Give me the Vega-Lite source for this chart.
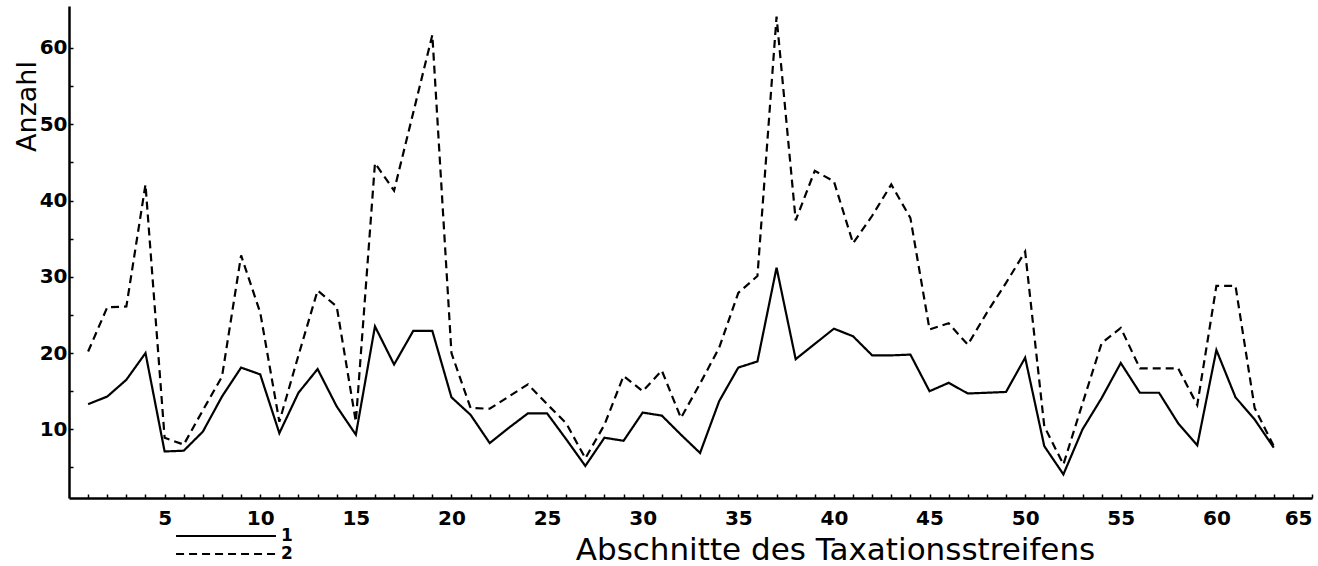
{
  "$schema": "https://vega.github.io/schema/vega-lite/v6.json",
  "autosize": {"type": "none"},
  "padding": {"left": 69, "top": 6, "right": 6, "bottom": 68},
  "width": 1243,
  "height": 492,
  "background": "white",
  "config": {"view": {"stroke": null}, "axis": {"grid": false}},
  "data": {"values": [
    {"abschnitt":1,"serie":"1","anzahl":13.3},{"abschnitt":2,"serie":"1","anzahl":14.3},{"abschnitt":3,"serie":"1","anzahl":16.5},{"abschnitt":4,"serie":"1","anzahl":20.0},{"abschnitt":5,"serie":"1","anzahl":7.1},{"abschnitt":6,"serie":"1","anzahl":7.2},{"abschnitt":7,"serie":"1","anzahl":9.7},{"abschnitt":8,"serie":"1","anzahl":14.3},{"abschnitt":9,"serie":"1","anzahl":18.1},{"abschnitt":10,"serie":"1","anzahl":17.2},
    {"abschnitt":11,"serie":"1","anzahl":9.5},{"abschnitt":12,"serie":"1","anzahl":14.8},{"abschnitt":13,"serie":"1","anzahl":17.9},{"abschnitt":14,"serie":"1","anzahl":13.0},{"abschnitt":15,"serie":"1","anzahl":9.3},{"abschnitt":16,"serie":"1","anzahl":23.5},{"abschnitt":17,"serie":"1","anzahl":18.5},{"abschnitt":18,"serie":"1","anzahl":22.9},{"abschnitt":19,"serie":"1","anzahl":22.9},{"abschnitt":20,"serie":"1","anzahl":14.2},
    {"abschnitt":21,"serie":"1","anzahl":11.9},{"abschnitt":22,"serie":"1","anzahl":8.2},{"abschnitt":23,"serie":"1","anzahl":10.2},{"abschnitt":24,"serie":"1","anzahl":12.1},{"abschnitt":25,"serie":"1","anzahl":12.1},{"abschnitt":26,"serie":"1","anzahl":8.7},{"abschnitt":27,"serie":"1","anzahl":5.2},{"abschnitt":28,"serie":"1","anzahl":8.9},{"abschnitt":29,"serie":"1","anzahl":8.5},{"abschnitt":30,"serie":"1","anzahl":12.2},
    {"abschnitt":31,"serie":"1","anzahl":11.8},{"abschnitt":32,"serie":"1","anzahl":9.3},{"abschnitt":33,"serie":"1","anzahl":6.9},{"abschnitt":34,"serie":"1","anzahl":13.7},{"abschnitt":35,"serie":"1","anzahl":18.1},{"abschnitt":36,"serie":"1","anzahl":18.9},{"abschnitt":37,"serie":"1","anzahl":31.2},{"abschnitt":38,"serie":"1","anzahl":19.2},{"abschnitt":39,"serie":"1","anzahl":21.2},{"abschnitt":40,"serie":"1","anzahl":23.2},
    {"abschnitt":41,"serie":"1","anzahl":22.2},{"abschnitt":42,"serie":"1","anzahl":19.7},{"abschnitt":43,"serie":"1","anzahl":19.7},{"abschnitt":44,"serie":"1","anzahl":19.8},{"abschnitt":45,"serie":"1","anzahl":15.0},{"abschnitt":46,"serie":"1","anzahl":16.1},{"abschnitt":47,"serie":"1","anzahl":14.7},{"abschnitt":48,"serie":"1","anzahl":14.8},{"abschnitt":49,"serie":"1","anzahl":14.9},{"abschnitt":50,"serie":"1","anzahl":19.4},
    {"abschnitt":51,"serie":"1","anzahl":7.8},{"abschnitt":52,"serie":"1","anzahl":4.1},{"abschnitt":53,"serie":"1","anzahl":10.0},{"abschnitt":54,"serie":"1","anzahl":14.1},{"abschnitt":55,"serie":"1","anzahl":18.7},{"abschnitt":56,"serie":"1","anzahl":14.8},{"abschnitt":57,"serie":"1","anzahl":14.8},{"abschnitt":58,"serie":"1","anzahl":10.8},{"abschnitt":59,"serie":"1","anzahl":7.9},{"abschnitt":60,"serie":"1","anzahl":20.4},
    {"abschnitt":61,"serie":"1","anzahl":14.2},{"abschnitt":62,"serie":"1","anzahl":11.3},{"abschnitt":63,"serie":"1","anzahl":7.6},
    {"abschnitt":1,"serie":"2","anzahl":20.2},{"abschnitt":2,"serie":"2","anzahl":26.0},{"abschnitt":3,"serie":"2","anzahl":26.1},{"abschnitt":4,"serie":"2","anzahl":42.1},{"abschnitt":5,"serie":"2","anzahl":8.9},{"abschnitt":6,"serie":"2","anzahl":8.0},{"abschnitt":7,"serie":"2","anzahl":12.5},{"abschnitt":8,"serie":"2","anzahl":16.9},{"abschnitt":9,"serie":"2","anzahl":32.8},{"abschnitt":10,"serie":"2","anzahl":25.3},
    {"abschnitt":11,"serie":"2","anzahl":11.0},{"abschnitt":12,"serie":"2","anzahl":19.7},{"abschnitt":13,"serie":"2","anzahl":28.2},{"abschnitt":14,"serie":"2","anzahl":26.1},{"abschnitt":15,"serie":"2","anzahl":11.0},{"abschnitt":16,"serie":"2","anzahl":44.9},{"abschnitt":17,"serie":"2","anzahl":41.3},{"abschnitt":18,"serie":"2","anzahl":51.5},{"abschnitt":19,"serie":"2","anzahl":61.7},{"abschnitt":20,"serie":"2","anzahl":20.0},
    {"abschnitt":21,"serie":"2","anzahl":12.8},{"abschnitt":22,"serie":"2","anzahl":12.7},{"abschnitt":23,"serie":"2","anzahl":14.3},{"abschnitt":24,"serie":"2","anzahl":15.9},{"abschnitt":25,"serie":"2","anzahl":13.3},{"abschnitt":26,"serie":"2","anzahl":10.8},{"abschnitt":27,"serie":"2","anzahl":6.2},{"abschnitt":28,"serie":"2","anzahl":10.6},{"abschnitt":29,"serie":"2","anzahl":17.0},{"abschnitt":30,"serie":"2","anzahl":15.0},
    {"abschnitt":31,"serie":"2","anzahl":17.7},{"abschnitt":32,"serie":"2","anzahl":11.5},{"abschnitt":33,"serie":"2","anzahl":16.0},{"abschnitt":34,"serie":"2","anzahl":20.7},{"abschnitt":35,"serie":"2","anzahl":27.9},{"abschnitt":36,"serie":"2","anzahl":30.1},{"abschnitt":37,"serie":"2","anzahl":64.1},{"abschnitt":38,"serie":"2","anzahl":37.4},{"abschnitt":39,"serie":"2","anzahl":43.9},{"abschnitt":40,"serie":"2","anzahl":42.5},
    {"abschnitt":41,"serie":"2","anzahl":34.4},{"abschnitt":42,"serie":"2","anzahl":38.0},{"abschnitt":43,"serie":"2","anzahl":42.1},{"abschnitt":44,"serie":"2","anzahl":37.7},{"abschnitt":45,"serie":"2","anzahl":23.1},{"abschnitt":46,"serie":"2","anzahl":23.9},{"abschnitt":47,"serie":"2","anzahl":21.1},{"abschnitt":48,"serie":"2","anzahl":25.3},{"abschnitt":49,"serie":"2","anzahl":29.2},{"abschnitt":50,"serie":"2","anzahl":33.3},
    {"abschnitt":51,"serie":"2","anzahl":10.4},{"abschnitt":52,"serie":"2","anzahl":5.4},{"abschnitt":53,"serie":"2","anzahl":13.4},{"abschnitt":54,"serie":"2","anzahl":21.3},{"abschnitt":55,"serie":"2","anzahl":23.3},{"abschnitt":56,"serie":"2","anzahl":18.0},{"abschnitt":57,"serie":"2","anzahl":18.0},{"abschnitt":58,"serie":"2","anzahl":18.0},{"abschnitt":59,"serie":"2","anzahl":13.2},{"abschnitt":60,"serie":"2","anzahl":28.8},
    {"abschnitt":61,"serie":"2","anzahl":28.8},{"abschnitt":62,"serie":"2","anzahl":12.8},{"abschnitt":63,"serie":"2","anzahl":7.8}
  ]},
  "mark": {"type": "line", "color": "black", "strokeWidth": 2.2, "strokeJoin": "miter"},
  "encoding": {
    "x": {
      "field": "abschnitt", "type": "quantitative",
      "scale": {"domain": [0, 65], "nice": false, "zero": false},
      "axis": {
        "values": [1,2,3,4,5,6,7,8,9,10,11,12,13,14,15,16,17,18,19,20,21,22,23,24,25,26,27,28,29,30,31,32,33,34,35,36,37,38,39,40,41,42,43,44,45,46,47,48,49,50,51,52,53,54,55,56,57,58,59,60,61,62,63,64,65],
        "labelExpr": "datum.value % 5 === 0 ? datum.label : ''",
        "domainColor": "black", "domainWidth": 2.5,
        "tickColor": "black", "tickWidth": 1.5, "tickSize": -4,
        "labelFont": "DejaVu Sans", "labelFontWeight": "bold", "labelFontSize": 20, "labelColor": "black",
        "labelPadding": 14, "labelFlush": true, "labelOverlap": false,
        "title": "Abschnitte des Taxationsstreifens",
        "titleFont": "DejaVu Sans", "titleFontWeight": "normal", "titleFontSize": 31, "titleColor": "black",
        "titleX": 766, "titleY": 61, "titleAlign": "center", "titleBaseline": "alphabetic", "titleAnchor": null
      }
    },
    "y": {
      "field": "anzahl", "type": "quantitative",
      "scale": {"domain": [1, 65.5], "nice": false, "zero": false},
      "axis": {
        "values": [5,10,15,20,25,30,35,40,45,50,55,60],
        "labelExpr": "datum.value % 10 === 0 ? datum.label : ''",
        "domainColor": "black", "domainWidth": 2.5,
        "tickColor": "black", "tickWidth": 1.5, "tickSize": -4,
        "labelFont": "DejaVu Sans", "labelFontWeight": "bold", "labelFontSize": 20, "labelColor": "black",
        "labelPadding": 6, "labelFlush": false, "labelOverlap": false,
        "title": "Anzahl",
        "titleFont": "DejaVu Sans", "titleFontWeight": "normal", "titleFontSize": 27, "titleColor": "black",
        "titleAngle": -90, "titleX": -42, "titleY": 100, "titleAlign": "center", "titleBaseline": "middle", "titleAnchor": null
      }
    },
    "strokeDash": {
      "field": "serie", "type": "nominal",
      "scale": {"domain": ["1", "2"], "range": [[1, 0], [8, 5]]},
      "legend": {
        "orient": "none", "legendX": 147, "legendY": 520, "title": null, "padding": 0,
        "symbolType": "M-5.55,0L5.55,0", "symbolSize": 324, "symbolStrokeWidth": 2, "symbolStrokeColor": "black",
        "labelFont": "DejaVu Sans", "labelFontWeight": "bold", "labelFontSize": 17, "labelColor": "black",
        "labelOffset": 45, "rowPadding": 0
      }
    }
  }
}
